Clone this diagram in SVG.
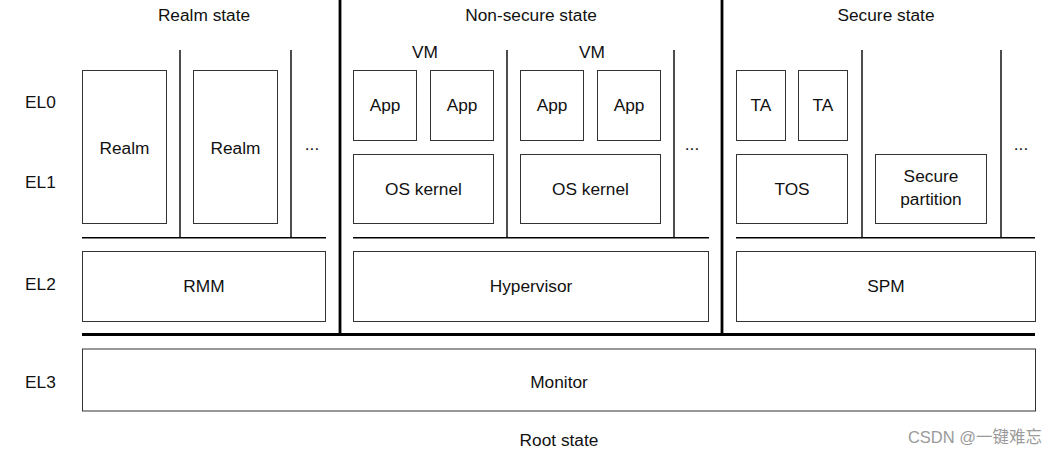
<svg xmlns="http://www.w3.org/2000/svg" width="1057" height="454" viewBox="0 0 1057 454">
<style>
  text { font-family: "Liberation Sans", Arial, sans-serif; font-size: 17.3px; fill: #111; }
  .c { text-anchor: middle; }
  .box { fill: #fff; stroke: #333; stroke-width: 1; }
  .thin { stroke: #000; stroke-width: 1.4; fill: none; }
  .heavy { stroke: #000; stroke-width: 2.8; fill: none; }
  .wm { font-family: "Liberation Sans", "Noto Sans CJK SC", sans-serif; font-size: 16.5px; fill: #9a9a9a; }
</style>
<rect width="1057" height="454" fill="#fff"/>

<g id="labels">
  <text x="25" y="108">EL0</text>
  <text x="25" y="188">EL1</text>
  <text x="25" y="290">EL2</text>
  <text x="25" y="388">EL3</text>
  <text class="c" x="204" y="21">Realm state</text>
  <text class="c" x="531" y="21">Non-secure state</text>
  <text class="c" x="886" y="21">Secure state</text>
  <text class="c" x="559" y="446">Root state</text>
  <text class="c" x="425" y="58">VM</text>
  <text class="c" x="592" y="58">VM</text>
  <text class="c" x="312" y="150">...</text>
  <text class="c" x="692" y="150">...</text>
  <text class="c" x="1021" y="150">...</text>
</g>

<g id="connectors">
  <line class="heavy" x1="340" y1="0" x2="340" y2="335"/>
  <line class="heavy" x1="722" y1="0" x2="722" y2="335"/>
  <line class="heavy" x1="82" y1="334.5" x2="1035" y2="334.5"/>
  <line class="thin" x1="180" y1="50" x2="180" y2="238"/>
  <line class="thin" x1="291" y1="50" x2="291" y2="238"/>
  <line class="thin" x1="82" y1="237.7" x2="326" y2="237.7"/>
  <line class="thin" x1="507" y1="50" x2="507" y2="238"/>
  <line class="thin" x1="674" y1="50" x2="674" y2="238"/>
  <line class="thin" x1="353" y1="237.7" x2="709" y2="237.7"/>
  <line class="thin" x1="862" y1="50" x2="862" y2="238"/>
  <line class="thin" x1="1001" y1="50" x2="1001" y2="238"/>
  <line class="thin" x1="736" y1="237.7" x2="1035" y2="237.7"/>
</g>

<g id="realm1"><rect class="box" x="82.5" y="70.5" width="84" height="153"/><text class="c" x="124.5" y="154">Realm</text></g>
<g id="realm2"><rect class="box" x="193.5" y="70.5" width="84" height="153"/><text class="c" x="235.5" y="154">Realm</text></g>
<g id="rmm"><rect class="box" x="82.5" y="251.5" width="243" height="70"/><text class="c" x="204" y="292">RMM</text></g>

<g id="app1"><rect class="box" x="353.5" y="70.5" width="63" height="70"/><text class="c" x="385" y="111">App</text></g>
<g id="app2"><rect class="box" x="430.5" y="70.5" width="63" height="70"/><text class="c" x="462" y="111">App</text></g>
<g id="oskernel1"><rect class="box" x="353.5" y="154.5" width="140" height="69"/><text class="c" x="423.5" y="195">OS kernel</text></g>
<g id="app3"><rect class="box" x="520.5" y="70.5" width="63" height="70"/><text class="c" x="552" y="111">App</text></g>
<g id="app4"><rect class="box" x="597.5" y="70.5" width="63" height="70"/><text class="c" x="629" y="111">App</text></g>
<g id="oskernel2"><rect class="box" x="520.5" y="154.5" width="140" height="69"/><text class="c" x="590.5" y="195">OS kernel</text></g>
<g id="hypervisor"><rect class="box" x="353.5" y="251.5" width="355" height="70"/><text class="c" x="531" y="292">Hypervisor</text></g>

<g id="ta1"><rect class="box" x="736.5" y="70.5" width="49" height="70"/><text class="c" x="761" y="111">TA</text></g>
<g id="ta2"><rect class="box" x="798.5" y="70.5" width="49" height="70"/><text class="c" x="823" y="111">TA</text></g>
<g id="tos"><rect class="box" x="736.5" y="154.5" width="111" height="69"/><text class="c" x="792" y="195">TOS</text></g>
<g id="securepartition"><rect class="box" x="875.5" y="154.5" width="111" height="69"/><text class="c" x="931" y="182">Secure</text><text class="c" x="931" y="205">partition</text></g>
<g id="spm"><rect class="box" x="736.5" y="251.5" width="299" height="70"/><text class="c" x="886" y="292">SPM</text></g>

<g id="monitor"><rect class="box" x="82.5" y="349" width="953" height="62"/><text class="c" x="559" y="388">Monitor</text></g>

<text class="wm" x="1042" y="443" text-anchor="end">CSDN @一键难忘</text>
</svg>
